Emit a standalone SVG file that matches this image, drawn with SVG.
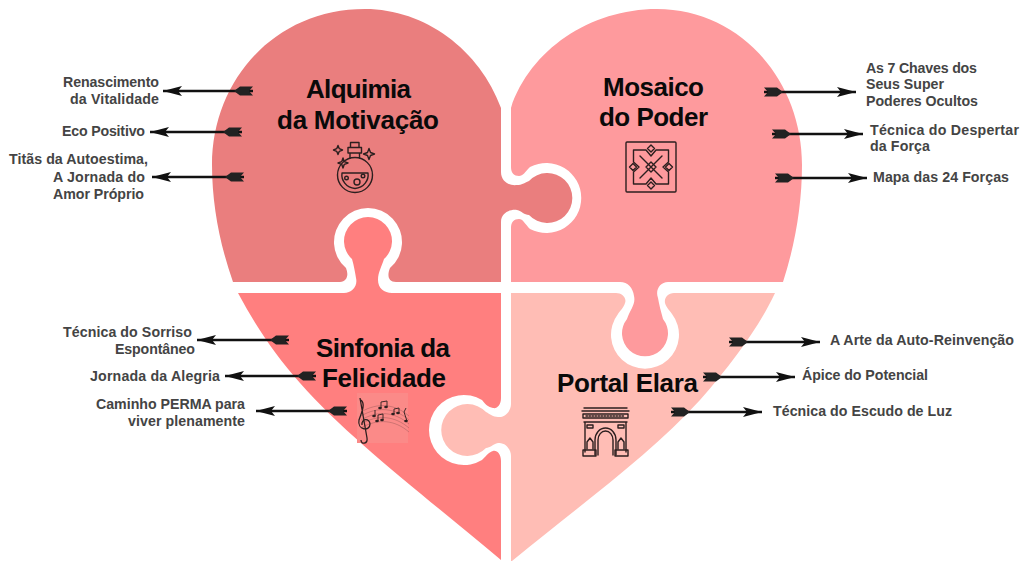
<svg xmlns="http://www.w3.org/2000/svg" width="1024" height="569" viewBox="0 0 1024 569">
<style>
text{font-family:"Liberation Sans",Arial,sans-serif;font-weight:700}
.t{font-size:26px;fill:#0a0a0a}
.l{font-size:14.2px;fill:#444}
.i{fill:none;stroke:#2c1f1f;stroke-width:1.4;stroke-linejoin:round;stroke-linecap:round}
.c{stroke:#111;stroke-width:2.6;fill:none;marker-start:url(#tail);marker-end:url(#head)}
.n{fill:#2c1f1f;stroke:none}
.s{fill:none;stroke:#8a5050;stroke-width:.4}
.k{fill:none;stroke:#2c1f1f;stroke-width:.9}
</style>
<defs>
<marker id="head" markerUnits="userSpaceOnUse" markerWidth="22" markerHeight="14" refX="19" refY="7" orient="auto"><path d="M0,2L19,7L0,12L4,7Z" fill="#111"/></marker>
<marker id="tail" markerUnits="userSpaceOnUse" markerWidth="22" markerHeight="14" refX="0" refY="7" orient="auto"><path d="M0,2.500L13,2.500L19,7L13,11.500L0,11.500L4,7Z" fill="#222"/></marker>
</defs>
<rect width="1024" height="569" fill="#fff"/>
<g id="alquimia">
<path fill="#EA7E7E" d="M501,108C480,50 425,9 365,9C275,9 212,80 212,165C212,205 220,245 233,282L340,282C347,282 349,275 346,268A34,34 0 1 1 390,268C387,275 388,282 396,282L501,282L501,222C501,213 510,209 517,210C522,211 524,215 529,215A25,25 0 1 0 529,181C524,183 522,185 517,185C510,186 501,182 501,172Z"/>
<text class="t" x="306" y="98" textLength="105">Alquimia</text>
<text class="t" x="277" y="129" textLength="162">da Motivação</text>
<g class="i">
<circle cx="355" cy="175" r="17.500"/>
<path d="M350,158L350,153L359.500,153L359.500,158M348,147.500L361.500,147.500L361.500,153L348,153ZM350.500,147.500L350.500,142.500L359,142.500L359,147.500"/>
<path d="M342,173L368,173C369,180 364,188 355,188.500C346,188 341,180 342,173Z"/>
<circle cx="346.500" cy="178" r="1.800"/><circle cx="357" cy="182" r="3"/><circle cx="363" cy="176" r="1.800"/>
<path d="M338,145.500L339.300,148.700L342.500,150L339.300,151.300L338,154.500L336.700,151.300L333.500,150L336.700,148.700Z"/>
<path d="M369,148.500L370.500,152.500L374.500,154L370.500,155.500L369,159.500L367.500,155.500L363.500,154L367.500,152.500Z"/>
<path d="M343,158L344.300,161.700L348,163L344.300,164.300L343,168L341.700,164.300L338,163L341.700,161.700Z"/>
</g>
</g>
<g id="mosaico">
<path fill="#FE9A9D" d="M511,108C530,50 590,9 657,9C740,9 802,80 802,165C802,205 795,245 783,282L668,282C660,282 655,290 658,298C659,304 661,312 663,319A23,23 0 1 1 627,319C630,310 636,304 634,296C633,288 628,282 620,282L511,282L511,228C511,222 514,219 519,219C523,219 525,224 530,229A35,35 0 1 0 530,167C525,172 523,176 519,176C514,176 511,173 511,167Z"/>
<text class="t" x="603" y="96" textLength="101">Mosaico</text>
<text class="t" x="599" y="126" textLength="109">do Poder</text>
<g class="i">
<rect x="626" y="142" width="50" height="50" rx="1"/>
<path d="M633.500,150L646,150L651,156L656,150L668.500,150L668.500,162L663,167L668.500,172L668.500,184L656,184L651,178L646,184L633.500,184L633.500,172L639,167L633.500,162Z"/>
<path d="M640,156L662,178M662,156L640,178"/>
<path d="M651,162L656,167L651,172L646,167Z"/>
<path d="M651,145L654.500,148.500L651,152L647.500,148.500Z"/>
<path d="M651,182L654.500,185.500L651,189L647.500,185.500Z"/>
<path d="M633,163.500L636.500,167L633,170.500L629.500,167Z"/>
<path d="M669,163.500L672.500,167L669,170.500L665.500,167Z"/>
</g>
</g>
<g id="sinfonia">
<path fill="#FF7F7F" d="M238,293L344,293C352,293 358,286 356,278C355,272 354,266 352,259A24,24 0 1 1 384,259C382,266 378,272 378,280C378,288 384,293 392,293L501,293L501,398C501,405 497,409 493,408C488,407 486,405 482,400A35,35 0 1 0 482,460C487,455 489,452 493,451C497,450 501,454 501,461L501,560C430,500 350,440 300,383C275,355 255,325 238,293Z"/>
<text class="t" x="316" y="357" textLength="134">Sinfonia da</text>
<text class="t" x="322" y="387" textLength="124">Felicidade</text>
<rect x="357" y="393" width="51" height="50" fill="#FB8A88"/>
<g class="s">
<path d="M361,412C378,402 395,404 409,416"/><path d="M361,416C378,406 395,408 409,420"/><path d="M361,420C378,410 395,412 409,424"/><path d="M361,424C378,414 395,416 409,428"/><path d="M361,428C378,418 395,420 409,432"/>
</g>
<path class="k" style="stroke-width:1.300" d="M361,400C366,404 361,414 359,420C357,430 370,432 370,424C370,418 361,418 362,425M360,398L367,438C368,444 361,445 361,440"/>
<g class="n">
<ellipse cx="374" cy="416" rx="1.800" ry="1.300"/><ellipse cx="380" cy="408" rx="1.800" ry="1.300"/><ellipse cx="386" cy="407" rx="1.800" ry="1.300"/><ellipse cx="377" cy="421" rx="1.800" ry="1.300"/><ellipse cx="382" cy="420" rx="1.800" ry="1.300"/><ellipse cx="393" cy="414" rx="1.800" ry="1.300"/><ellipse cx="398" cy="413" rx="1.800" ry="1.300"/><ellipse cx="406" cy="421" rx="1.800" ry="1.300"/>
</g>
<path class="k" d="M375,416L375,410M381,408L381,402L387,401L387,407M378,421L378,415L383,414L383,420M394,414L394,409L399,408L399,413M407,421L404,412L406,408"/>
</g>
<g id="portal">
<path fill="#FFBDB5" d="M511,293L616,293C622,293 627,298 625,303C624,307 620,311 618,314A34,34 0 1 0 672,314C670,311 666,307 665,303C664,298 668,293 674,293L775,293C760,325 735,360 700,400C650,455 580,505 512,561L511,561L511,456C511,449 505,442 498,443C493,444 490,448 486,448A26,26 0 1 1 486,412C490,414 493,417 498,417C505,418 511,411 511,404Z"/>
<text class="t" x="557" y="392" textLength="141">Portal Elara</text>
<g class="i">
<path d="M584,408L627,408M582,411L629,411M583,414L628,414L628,418L583,418ZM584,422L627,422M585,422L585,452M626,422L626,452"/>
<path d="M586,416L625,416" stroke-dasharray="1.500 1.500"/>
<path d="M598,455L598,440A7.500,9 0 0 1 613,440L613,455"/>
<path d="M595,455L595,440A10.500,12 0 0 1 616,440L616,455"/>
<rect x="587" y="425" width="6" height="3"/><rect x="618" y="425" width="6" height="3"/>
<path d="M587,449L587,442L590,438L593,442L593,449M618,449L618,442L621,438L624,442L624,449"/>
<path d="M583,450L596,450L596,456L583,456ZM615,450L628,450L628,456L615,456Z"/>
</g>
</g>
<g id="connectors">
<line class="c" x1="253" y1="91" x2="163" y2="91"/>
<line class="c" x1="242" y1="132" x2="150" y2="132"/>
<line class="c" x1="244" y1="177" x2="152" y2="177"/>
<line class="c" x1="289" y1="340" x2="197" y2="340"/>
<line class="c" x1="316" y1="376" x2="225" y2="376"/>
<line class="c" x1="347" y1="411" x2="256" y2="411"/>
<line class="c" x1="764" y1="92" x2="856" y2="92"/>
<line class="c" x1="772" y1="134" x2="863" y2="134"/>
<line class="c" x1="775" y1="178" x2="867" y2="178"/>
<line class="c" x1="729" y1="342" x2="820" y2="342"/>
<line class="c" x1="703" y1="377" x2="795" y2="377"/>
<line class="c" x1="671" y1="412" x2="762" y2="412"/>
</g>
<g id="labels-alquimia">
<text class="l" x="63" y="87" textLength="96">Renascimento</text>
<text class="l" x="70" y="104" textLength="89">da Vitalidade</text>
<text class="l" x="62" y="136" textLength="83">Eco Positivo</text>
<text class="l" x="9" y="164" textLength="139">Titãs da Autoestima,</text>
<text class="l" x="53" y="182" textLength="92">A Jornada do</text>
<text class="l" x="53" y="199" textLength="91">Amor Próprio</text>
</g>
<g id="labels-mosaico">
<text class="l" x="866" y="73" textLength="111">As 7 Chaves dos</text>
<text class="l" x="866" y="89" textLength="78">Seus Super</text>
<text class="l" x="866" y="106" textLength="112">Poderes Ocultos</text>
<text class="l" x="870" y="135" textLength="149">Técnica do Despertar</text>
<text class="l" x="870" y="151" textLength="60">da Força</text>
<text class="l" x="873" y="182" textLength="136">Mapa das 24 Forças</text>
</g>
<g id="labels-sinfonia">
<text class="l" x="63" y="337" textLength="129">Técnica do Sorriso</text>
<text class="l" x="115" y="354" textLength="80">Espontâneo</text>
<text class="l" x="90" y="381" textLength="130">Jornada da Alegria</text>
<text class="l" x="96" y="409" textLength="149">Caminho PERMA para</text>
<text class="l" x="128" y="426" textLength="117">viver plenamente</text>
</g>
<g id="labels-portal">
<text class="l" x="830" y="345" textLength="184">A Arte da Auto-Reinvenção</text>
<text class="l" x="802" y="380" textLength="126">Ápice do Potencial</text>
<text class="l" x="773" y="416" textLength="179">Técnica do Escudo de Luz</text>
</g>
</svg>
